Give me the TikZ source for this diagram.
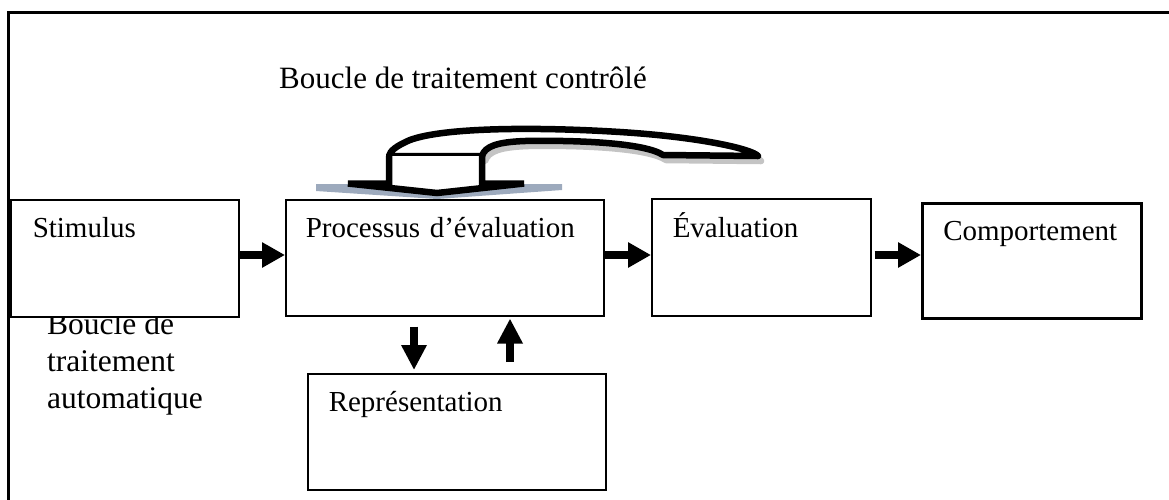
\documentclass[tikz,border=0pt]{standalone}
\usepackage{fontspec}
\setmainfont{Liberation Serif}
\usetikzlibrary{arrows.meta,calc}
\definecolor{shadowgray}{HTML}{C4C4C4}
\definecolor{shadowblue}{HTML}{9DAABD}
\begin{document}
\begin{tikzpicture}[x=1pt,y=-1pt,
  box/.style={draw, line width=1.5pt, fill=white, inner ysep=0pt, align=left,
    anchor=north west, font=\fontsize{29}{35}\selectfont},
  blockarrow/.style={line width=8pt, -{Triangle[length=23pt,width=24pt]}},
  vblockarrow/.style={line width=8pt, -{Triangle[length=25pt,width=24pt]}},
  loopline/.style={line width=6.5pt, line join=round},
  label/.style={inner sep=0pt, align=left},
  ]
\useasboundingbox (0,0) rectangle (1169,499);

% outer frame (open to the right and bottom)
\draw[line width=3pt] (8,510) -- (8,12) -- (1180,12);

% captions (the lower one is partly hidden by the Stimulus box)
\node[label, anchor=base west, font=\fontsize{31}{37}\selectfont] (ctrl) at (279,88)
  {Boucle de traitement contrôlé};
\node[label, anchor=base west, font=\fontsize{31.5}{37}\selectfont] (auto) at (47,408)
  {Boucle de\\traitement\\automatique};

% process boxes
\node[box, text width=184pt, inner xsep=22pt, text height=38pt, text depth=79pt] (stim) at (10,199) {Stimulus};
\node[box, text width=278pt, inner xsep=20pt, text height=38pt, text depth=78pt] (proc) at (285,199) {Processus d’évaluation};
\node[box, text width=177pt, inner xsep=21pt, text height=39pt, text depth=78pt] (eval) at (651,198) {Évaluation};
\node[box, line width=2.5pt, text width=177pt, inner xsep=21pt, text height=37pt, text depth=78pt] (comp) at (921,202) {Comportement};
\node[box, text width=256pt, inner xsep=21pt, text height=38pt, text depth=78pt] (rep) at (307,373) {Représentation};

% horizontal flow
\coordinate (mid) at (0,255);
\draw[blockarrow] (stim.east |- mid) -- (proc.west |- mid);
\draw[blockarrow] (proc.east |- mid) -- (eval.west |- mid);
\draw[blockarrow] ($(eval.east |- mid)+(3,0)$) -- (comp.west |- mid);

% exchanges with the representation
\coordinate (dx) at (414,0);
\coordinate (ux) at (510,0);
\draw[vblockarrow] ($(proc.south -| dx)+(0,10)$) -- ($(rep.north -| dx)+(0,-3)$);
\draw[vblockarrow] ($(rep.north -| ux)+(0,-11)$) -- ($(proc.south -| ux)+(0,2)$);

% controlled loop: shadows first
\fill[shadowblue] (316,184) -- (562,184) -- (562,190) -- (437,199) -- (316,191) -- cycle;
\begin{scope}[shift={(3,5)}]
  \draw[loopline, draw=shadowgray, fill=shadowgray]
    (389,156) -- (482,156)
    .. controls (485,146) and (498,142) .. (525,141)
    .. controls (580,140) and (645,143) .. (663,155)
    -- (758,156)
    .. controls (752,149) and (700,137) .. (620,132)
    .. controls (540,127) and (445,127) .. (410,140)
    .. controls (396,146) and (390,151) .. cycle;
\end{scope}

% controlled loop: bent band
\draw[loopline, fill=white]
  (389,156) -- (482,156)
  .. controls (485,146) and (498,142) .. (525,141)
  .. controls (580,140) and (645,143) .. (663,155)
  -- (758,156)
  .. controls (752,149) and (700,137) .. (620,132)
  .. controls (540,127) and (445,127) .. (410,140)
  .. controls (396,146) and (390,151) .. cycle;

% controlled loop: stem and head pointing down onto the process
\draw[loopline, line join=miter, fill=white]
  (389,156) -- (389,183.5) -- (348,183.5) -- (437,193) -- (524,183.5)
  -- (482,183.5) -- (482,156);
\end{tikzpicture}
\end{document}
